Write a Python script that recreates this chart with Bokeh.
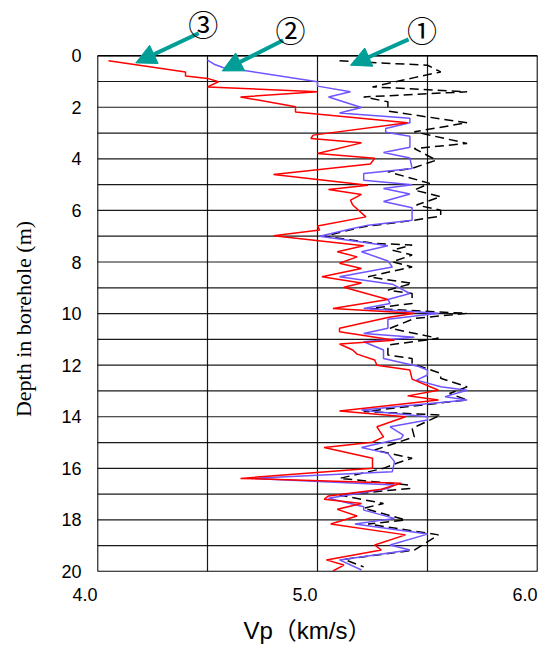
from bokeh.plotting import figure
from bokeh.models import Range1d, FixedTicker, Arrow, NormalHead, Label, PrintfTickFormatter
from bokeh.embed import file_html
from bokeh.resources import INLINE

# ---- data ----
# Series 3 (red)
depth_3 = [0.2, 0.63, 0.79, 0.88, 1.01, 1.21, 1.40, 1.60, 1.98, 2.18, 2.60, 3.08, 3.21, 3.38,
           3.79, 3.98, 4.2, 4.61, 5.02, 5.19, 5.38, 5.60, 5.79, 6.25, 6.60, 6.76, 6.98, 7.37,
           7.60, 7.80, 8.05, 8.25, 8.57, 8.81, 8.98, 9.45, 9.80, 9.99, 10.15, 10.57, 10.70,
           11.03, 11.18, 11.41, 11.57, 11.80, 12.0, 12.19, 12.54, 12.97, 13.19, 13.35, 13.78,
           14.0, 14.39, 14.78, 14.99, 15.19, 15.61, 16.0, 16.39, 16.58, 16.81, 17.07, 17.20,
           17.36, 17.59, 17.85, 18.16, 18.58, 18.97, 19.17, 19.55, 19.75, 19.98]
vp_3 = [4.05, 4.40, 4.40, 4.50, 4.55, 4.50, 5.00, 4.65, 4.90, 4.90, 5.41, 4.98, 4.97, 5.20,
        5.00, 5.26, 5.24, 4.80, 5.23, 5.05, 5.20, 5.15, 5.16, 5.22, 5.00, 5.01, 4.80, 5.21,
        5.09, 5.18, 5.10, 5.20, 5.02, 5.20, 5.12, 5.32, 5.07, 5.44, 5.32, 5.10, 5.10,
        5.35, 5.10, 5.16, 5.18, 5.26, 5.27, 5.42, 5.43, 5.55, 5.41, 5.55, 5.10,
        5.40, 5.27, 5.30, 5.25, 5.03, 5.25, 5.25, 4.65, 5.38, 5.29, 5.05, 5.03,
        5.20, 5.09, 5.18, 5.06, 5.40, 5.26, 5.29, 5.04, 5.12, 5.07]

# Series 2 (blue)
depth_2 = [0.17, 0.33, 0.46, 0.56, 1.01, 1.18, 1.40, 1.60, 2.01, 2.22, 2.43, 2.60, 2.82, 2.97,
           3.12, 3.55, 3.75, 3.97, 4.37, 4.57, 4.83, 5.0, 5.15, 5.36, 5.65, 5.9, 6.38, 6.57,
           6.70, 7.0, 7.37, 7.60, 7.96, 8.19, 8.57, 8.86, 9.22, 9.45, 9.61, 9.80, 9.99, 10.22,
           10.57, 10.77, 10.92, 11.09, 11.41, 11.74, 12.05, 12.19, 12.38, 12.58, 12.84, 12.97,
           13.22, 13.35, 13.74, 13.81, 14.0, 14.13, 14.39, 14.71, 14.84, 15.19, 15.42, 15.74,
           16.13, 16.39, 16.65, 16.78, 17.16, 17.49, 17.62, 17.94, 18.16, 18.55, 18.97, 19.17,
           19.55, 19.94]
vp_2 = [4.50, 4.53, 4.57, 4.66, 5.00, 5.00, 5.15, 5.05, 5.20, 5.10, 5.42, 5.42, 5.31, 5.31,
        5.42, 5.42, 5.30, 5.42, 5.43, 5.21, 5.21, 5.43, 5.30, 5.42, 5.30, 5.43, 5.43, 5.23,
        5.16, 5.01, 5.32, 5.20, 5.32, 5.34, 5.10, 5.34, 5.42, 5.32, 5.33, 5.21, 5.55, 5.32,
        5.32, 5.21, 5.44, 5.21, 5.30, 5.30, 5.46, 5.50, 5.50, 5.45, 5.56, 5.68,
        5.58, 5.68, 5.20, 5.27, 5.50, 5.50, 5.33, 5.39, 5.38, 5.20, 5.32, 5.35,
        5.34, 4.70, 5.35, 5.32, 5.05, 5.21, 5.21, 5.35, 5.17, 5.50, 5.33, 5.42,
        5.10, 5.20]

# Series 1 (black dashed)
depth_1 = [0.2, 0.37, 0.63, 0.85, 1.21, 1.40, 1.60, 1.79, 2.15, 2.60, 2.95, 3.40, 3.60, 4.05,
           4.37, 4.50, 4.95, 5.21, 5.47, 5.79, 5.99, 6.22, 6.38, 6.63, 7.0, 7.28, 7.34, 7.54,
           7.73, 7.99, 8.19, 8.57, 8.83, 9.09, 9.22, 9.61, 9.80, 9.99, 10.19, 10.57, 10.96,
           11.22, 11.61, 11.74, 11.93, 12.32, 12.51, 12.84, 13.1, 13.35, 13.80, 13.93, 14.45,
           14.78, 15.29, 15.61, 15.80, 16.0, 16.39, 16.65, 16.78, 17.04, 17.36, 17.55, 18.0,
           18.16, 18.58, 19.17, 19.53, 19.82]
vp_1 = [5.10, 5.50, 5.56, 5.44, 5.25, 5.68, 5.21, 5.32, 5.32, 5.68, 5.44, 5.68, 5.44, 5.54,
        5.43, 5.32, 5.51, 5.44, 5.56, 5.45, 5.56, 5.56, 5.44, 5.21, 5.03, 5.26, 5.43, 5.34,
        5.43, 5.34, 5.43, 5.23, 5.43, 5.32, 5.43, 5.43, 5.24, 5.68, 5.44, 5.33, 5.55,
        5.32, 5.32, 5.43, 5.43, 5.56, 5.56, 5.68, 5.60, 5.68, 5.21, 5.56, 5.43,
        5.44, 5.26, 5.43, 5.36, 5.30, 5.10, 5.42, 5.42, 5.10, 5.30, 5.21, 5.40,
        5.23, 5.55, 5.44, 5.12, 5.21]

x_min, x_max = 4.0, 6.0
d_min, d_max = 0, 20
x_ticks = [4.0, 5.0, 6.0]
x_grid = [4.0, 4.5, 5.0, 5.5, 6.0]
y_ticks = list(range(0, 21, 2))
y_grid = list(range(0, 21))

# annotation positions (data coords): label text, label pos, arrow tail, arrow tip
marks = ["\u2462", "\u2461", "\u2460"]
mark_pos = [(4.481, -1.25), (4.877, -1.05), (5.475, -1.02)]
arrow_tail = [(4.46, -0.87), (4.844, -0.60), (5.414, -0.63)]
arrow_tip = [(4.174, 0.28), (4.567, 0.59), (5.15, 0.37)]

TEAL = "#009e96"
NB = "\u00a0"

# frame extends above depth 0 so the call-out arrows are not clipped
p = figure(width=541, height=650, x_range=Range1d(x_min, x_max), y_range=Range1d(20, -2.14),
           output_backend="svg", toolbar_location=None,
           min_border_left=97, min_border_right=4, min_border_top=0, min_border_bottom=79)
p.background_fill_color = "white"
p.border_fill_color = "white"
p.outline_line_color = None
p.grid.visible = False

# grid box drawn only over the data area (0-20 m)
p.segment(x0=x_grid, y0=[d_min] * len(x_grid), x1=x_grid, y1=[d_max] * len(x_grid),
          line_color="black", line_width=1.2, line_alpha=0.9)
p.segment(x0=[x_min] * len(y_grid), y0=y_grid, x1=[x_max] * len(y_grid), y1=y_grid,
          line_color="black", line_width=1.2, line_alpha=0.9)
p.segment(x0=[x_min, x_max, x_min, x_min], y0=[d_min, d_min, d_min, d_max],
          x1=[x_min, x_max, x_max, x_max], y1=[d_max, d_max, d_min, d_max],
          line_color="black", line_width=1.5)

p.xaxis.ticker = FixedTicker(ticks=x_ticks)
p.xaxis.formatter = PrintfTickFormatter(format="%.1f")
p.yaxis.ticker = FixedTicker(ticks=y_ticks)
for ax in (p.xaxis, p.yaxis):
    ax.axis_line_color = None
    ax.major_tick_line_color = None
    ax.minor_tick_line_color = None
    ax.major_tick_out = 0
    ax.major_tick_in = 0
    ax.minor_tick_out = 0
    ax.major_label_text_font = "Liberation Sans"
    ax.major_label_text_font_size = "18px"
    ax.major_label_text_color = "black"
    ax.axis_label_text_font_style = "normal"
    ax.axis_label_text_color = "black"

# a negligible angle makes Bokeh anchor each x label at its right end (as in the reference)
p.xaxis.major_label_orientation = 0.0001
p.xaxis.major_label_standoff = 23
p.yaxis.major_label_standoff = 16

p.xaxis.axis_label = "Vp\uff08km/s\uff09" + NB * 3
p.xaxis.axis_label_text_font = "'Liberation Sans', 'Noto Sans CJK SC', sans-serif"
p.xaxis.axis_label_text_font_size = "24px"
p.xaxis.axis_label_standoff = 6

p.yaxis.axis_label = "Depth in borehole (m)" + NB * 12
p.yaxis.axis_label_text_font = "Liberation Serif"
p.yaxis.axis_label_text_font_size = "22px"
p.yaxis.axis_label_standoff = 22

p.line(vp_1, depth_1, line_color="black", line_width=1.5, line_dash="9 5")
p.line(vp_2, depth_2, line_color="#6e55ff", line_width=1.5)
p.line(vp_3, depth_3, line_color="red", line_width=1.5)

for txt, (lx, ly), (tx, ty), (hx, hy) in zip(marks, mark_pos, arrow_tail, arrow_tip):
    p.add_layout(Arrow(end=NormalHead(size=20, fill_color=TEAL, line_color=TEAL),
                       x_start=tx, y_start=ty, x_end=hx, y_end=hy,
                       line_color=TEAL, line_width=4))
    p.add_layout(Label(x=lx, y=ly, text=txt, text_align="center", text_baseline="middle",
                       text_font="Noto Sans CJK JP", text_font_size="30px", text_color="black"))

open("out.html", "w").write(file_html(p, INLINE))
